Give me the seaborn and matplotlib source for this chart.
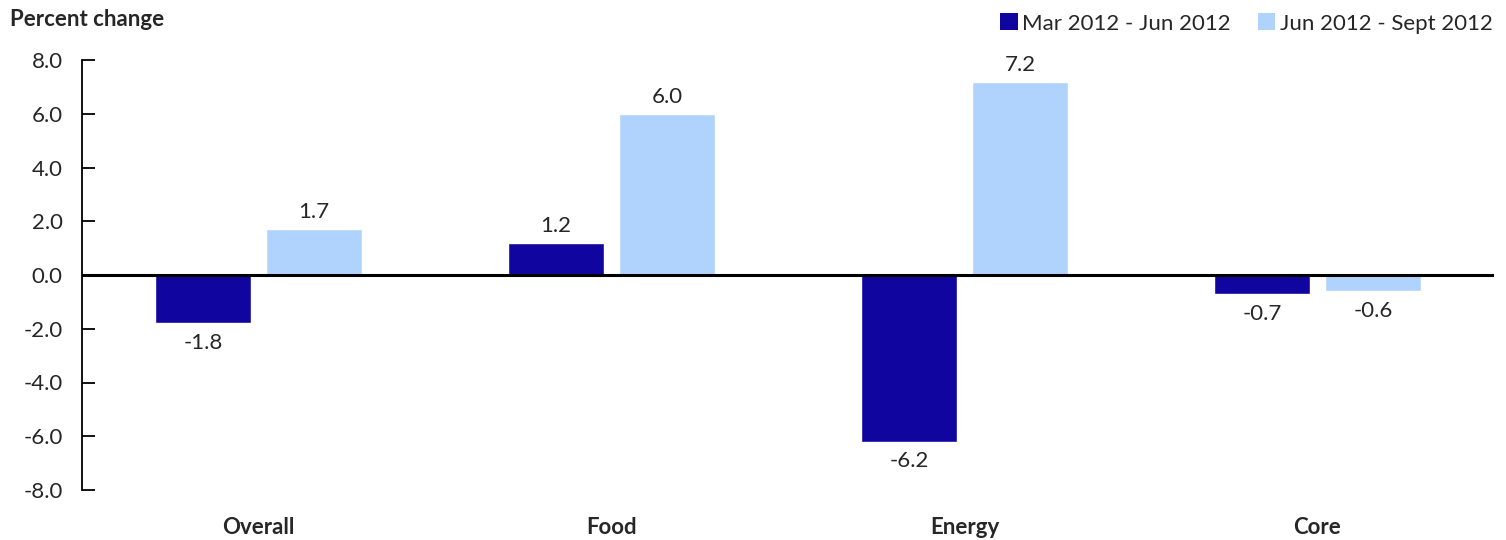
import matplotlib
matplotlib.use("Agg")
import matplotlib.pyplot as plt
import seaborn as sns
import pandas as pd
from matplotlib.patches import Patch

categories = ["Overall", "Food", "Energy", "Core"]
series_names = ["Mar 2012 - Jun 2012", "Jun 2012 - Sept 2012"]
mar_jun = [-1.8, 1.2, -6.2, -0.7]
jun_sep = [1.7, 6.0, 7.2, -0.6]
y_ticks = [-8.0, -6.0, -4.0, -2.0, 0.0, 2.0, 4.0, 6.0, 8.0]
colors = ["#10069F", "#B0D3FD"]

df = pd.DataFrame({
    "category": categories * 2,
    "period": [series_names[0]] * 4 + [series_names[1]] * 4,
    "value": mar_jun + jun_sep,
})

sns.set_theme(style="white")
plt.rcParams["font.family"] = ["Lato", "DejaVu Sans"]
FS = 16

fig = plt.figure(figsize=(15.06, 5.4), dpi=100)
ax = fig.add_axes([82 / 1506, 50 / 540, 1412 / 1506, 430 / 540])

sns.barplot(data=df, x="category", y="value", hue="period",
            palette=colors, width=0.63, gap=0.13, ax=ax,
            legend=False, saturation=1, errorbar=None)

ax.set_ylim(-8, 8)
ax.set_xlim(-0.5, 3.5)
ax.set_yticks(y_ticks)
ax.set_yticklabels([f"{t:.1f}" for t in y_ticks], fontsize=FS)
ax.tick_params(axis="y", direction="in", length=9, width=1.3, color="black",
               left=True, pad=14)
ax.tick_params(axis="x", length=0, pad=0)
ax.set_xticklabels([])
ax.set_xlabel("")
ax.set_ylabel("")

for side in ["top", "right", "bottom"]:
    ax.spines[side].set_visible(False)
ax.spines["left"].set_color("black")
ax.spines["left"].set_linewidth(1.3)
ax.axhline(0, color="black", linewidth=2.2, zorder=5)

# value labels above positive bars, below negative ones
for cont in ax.containers:
    for bar in cont:
        h = bar.get_height()
        x = bar.get_x() + bar.get_width() / 2
        if h >= 0:
            ax.annotate(f"{h:.1f}", (x, h), xytext=(0, 5), textcoords="offset points",
                        ha="center", va="bottom", fontsize=FS)
        else:
            ax.annotate(f"{h:.1f}", (x, h), xytext=(0, -7), textcoords="offset points",
                        ha="center", va="top", fontsize=FS)

for i, cat in enumerate(categories):
    ax.text(i, -9.4, cat, ha="center", va="center", fontsize=FS,
            fontweight="bold", transform=ax.transData, clip_on=False)

fig.text(10 / 1506, 1 - 20 / 540, "Percent change", ha="left", va="center",
         fontsize=FS, fontweight="bold")

handles = [Patch(facecolor=c, edgecolor="none") for c in colors]
fig.legend(handles, series_names, loc="upper right",
           bbox_to_anchor=(1.0, 1.0), ncol=2, frameon=False, fontsize=FS,
           handlelength=0.8, handleheight=0.8, handletextpad=0.2,
           columnspacing=1.2, borderaxespad=0.2)

fig.savefig("out.png", dpi=100)
